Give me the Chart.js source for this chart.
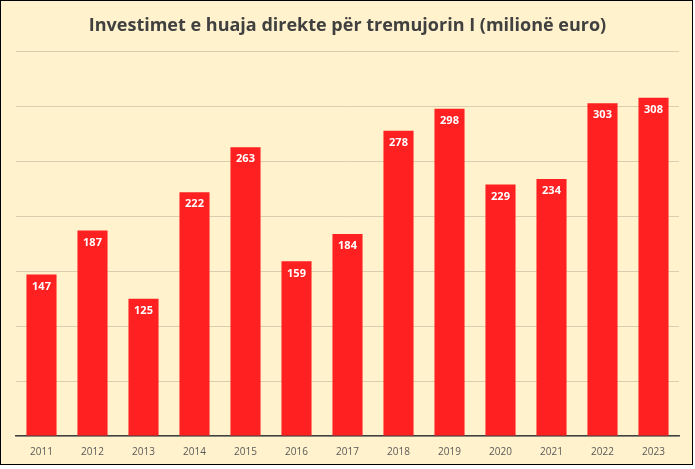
<!DOCTYPE html>
<html>
<head>
<meta charset="utf-8">
<script src="https://cdn.jsdelivr.net/npm/chart.js@4.4.1/dist/chart.umd.min.js"></script>
<style>
  html, body { margin: 0; padding: 0; background: #fff; }
  #box {
    position: absolute; left: 0; top: 0;
    width: 693px; height: 465px;
    box-sizing: border-box;
    border: 1px solid #000;
    background: #FFF2CC;
  }
</style>
</head>
<body>
<div id="box"><canvas id="myChart" width="691" height="463"></canvas></div>
<script>
const years = ['2011','2012','2013','2014','2015','2016','2017','2018','2019','2020','2021','2022','2023'];
const values = [147, 187, 125, 222, 263, 159, 184, 278, 298, 229, 234, 303, 308];
const chartTitle = 'Investimet e huaja direkte për tremujorin I (milionë euro)';

// labels inside the top of each bar
const barLabels = {
  id: 'barLabels',
  afterDatasetsDraw(chart) {
    const ctx = chart.ctx;
    const meta = chart.getDatasetMeta(0);
    ctx.save();
    ctx.fillStyle = '#ffffff';
    ctx.font = 'bold 11px "Open Sans", sans-serif';
    ctx.textAlign = 'center';
    ctx.textBaseline = 'middle';
    meta.data.forEach(function(bar, i) {
      ctx.fillText(values[i], bar.x, bar.y + 12);
    });
    ctx.restore();
  }
};

new Chart(document.getElementById('myChart'), {
  type: 'bar',
  data: {
    labels: years,
    datasets: [{
      data: values,
      backgroundColor: '#FF2121',
      barPercentage: 0.59,
      categoryPercentage: 1.0
    }]
  },
  options: {
    responsive: false,
    animation: false,
    layout: { padding: { left: 15, right: 13, top: 0, bottom: 4 } },
    plugins: {
      legend: { display: false },
      tooltip: { enabled: false },
      title: {
        display: true,
        text: chartTitle,
        color: '#404040',
        font: { family: '"Open Sans", sans-serif', size: 18, weight: 'bold' },
        padding: { top: 14, bottom: 15 }
      }
    },
    scales: {
      x: {
        grid: { display: false },
        border: { display: true, color: '#404040', width: 1.5 },
        ticks: { color: '#595959', font: { family: '"Open Sans", sans-serif', size: 10 }, padding: 2 }
      },
      y: {
        min: 0, max: 350,
        ticks: { display: false, stepSize: 50 },
        grid: { color: '#D9CFB0', lineWidth: 1, drawTicks: false },
        border: { display: false }
      }
    }
  },
  plugins: [barLabels]
});
</script>
</body>
</html>
